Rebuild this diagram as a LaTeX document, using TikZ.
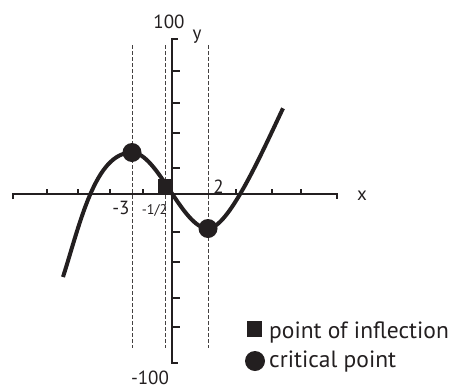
\documentclass[tikz,border=0pt]{standalone}
\usepackage{fontspec}
\setmainfont{PT Sans}
\definecolor{ink}{HTML}{231F20}
\begin{document}
\begin{tikzpicture}[x=1pt,y=-1pt,
  axisline/.style={line width=2pt,color=ink},
  tickline/.style={line width=1.8pt,color=ink},
  guide/.style={dash pattern=on 4pt off 2pt,line width=1pt,color=ink!85},
  curveline/.style={line width=4pt,color=ink},
  lbl/.style={inner sep=0pt,text=ink,font=\fontsize{19}{19}\selectfont},
  smalllbl/.style={inner sep=0pt,text=ink,font=\fontsize{14}{14}\selectfont},
  legtext/.style={inner sep=0pt,text=ink,anchor=base west,font=\fontsize{23.5}{23.5}\selectfont},
  dotmark/.style={circle,fill=ink,draw=none,minimum size=19pt,inner sep=0pt},
  sqmark/.style={rectangle,fill=ink,draw=none,minimum size=14pt,inner sep=0pt}]
\useasboundingbox (0,0) rectangle (449,388);
% guide lines
\coordinate (g1t) at (132,45); \coordinate (g1b) at (132,348);
\coordinate (g2t) at (165,45); \coordinate (g2b) at (165,348);
\coordinate (g3t) at (208,45); \coordinate (g3b) at (208,348);
\draw[guide] (g1t) -- (g1b);
\draw[guide] (g2t) -- (g2b);
\draw[guide] (g3t) -- (g3b);
% axes
\coordinate (xl) at (13,194); \coordinate (xr) at (337,194);
\coordinate (yt) at (172,39); \coordinate (yb) at (172,363);
\draw[axisline] ([yshift=-5pt]xl) -- (xl) -- (xr) -- ([yshift=-5pt]xr);
\draw[axisline] ([xshift=6pt]yt) -- (yt) -- (yb) -- ([xshift=6pt]yb);
\foreach \t in {47,78,110,143,236,272,301}
  \draw[tickline] (\t,194) -- (\t,189);
\foreach \t in {71,103,133,168,232,262,298,327}
  \draw[tickline] (172,\t) -- (180,\t);
% curve
\coordinate (c0) at (63,277);
\coordinate (cmax) at (132,152.5);
\coordinate (cmin) at (208,228.5);
\coordinate (c3) at (283,108.3);
\draw[curveline,line cap=butt] (c0) .. controls (80,224) and (95,152.5) .. (cmax)
  .. controls (157.5,152.5) and (182.5,228.5) .. (cmin)
  .. controls (228,228.5) and (260.5,155.85) .. (c3);
% markers
\node[sqmark] (infl) at (165,186) {};
\node[dotmark] (maxpt) at (cmax) {};
\node[dotmark] (minpt) at (cmin) {};
% labels
\node[lbl] (l100) at (169,22) {100};
\node[lbl] (lm100) at (150,377.5) {-100};
\node[lbl] (ly) at (197,37) {y};
\node[lbl] (lx) at (362,196) {x};
\node[lbl] (lm3) at (121,208) {-3};
\node[smalllbl] (lhalf) at (154.5,210.5) {-1/2};
\node[lbl] (l2) at (218.5,187) {2};
% legend
\node[sqmark,minimum size=15.5pt] (legsq) at (254.5,329) {};
\node[dotmark,minimum size=20pt] (legdot) at (255,361) {};
\node[legtext] (legt1) at (269,338) {point of inflection};
\node[legtext] (legt2) at (269,367) {critical point};
\end{tikzpicture}
\end{document}
